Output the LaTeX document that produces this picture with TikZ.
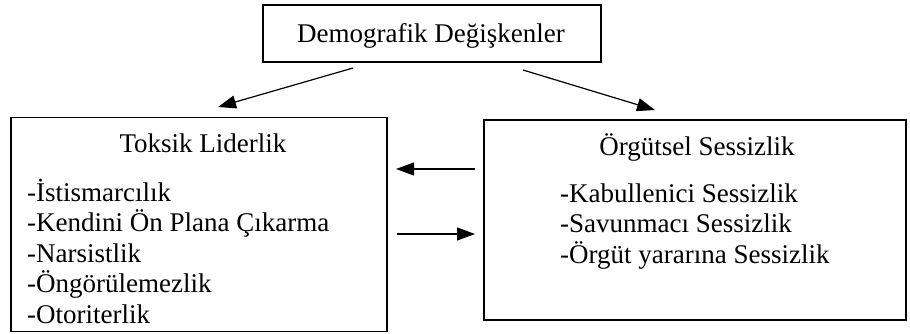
\documentclass[tikz,border=0pt]{standalone}
\usepackage{fontspec}
\setmainfont{Liberation Serif}
\usetikzlibrary{arrows.meta}
\begin{document}
\begin{tikzpicture}[x=1pt,y=-1pt,
  box/.style={draw,line width=1.2pt,rectangle,inner sep=0pt},
  txt/.style={anchor=base,inner sep=0pt,font=\fontsize{27}{31}\selectfont},
  lst/.style={anchor=base west,inner sep=0pt,font=\fontsize{27}{31}\selectfont},
  conn/.style={line width=1.2pt,-{Triangle[length=18pt,width=13pt]}}]
\useasboundingbox (0,0) rectangle (910,334);
\node[box,minimum width=338pt,minimum height=57pt] (demo) at (432,33.5) {};
\node[box,minimum width=376pt,minimum height=214pt] (tox) at (199,224.5) {};
\node[box,minimum width=422pt,minimum height=200pt] (org) at (695,220) {};
\node[txt] (demot) at (431,43) {Demografik Değişkenler};
\node[txt] (toxt) at (203,153) {Toksik Liderlik};
\node[lst] (t1) at (27,201) {-İstismarcılık};
\node[lst] (t2) at (27,231.5) {-Kendini Ön Plana Çıkarma};
\node[lst] (t3) at (27,262) {-Narsistlik};
\node[lst] (t4) at (27,292.5) {-Öngörülemezlik};
\node[lst] (t5) at (27,323) {-Otoriterlik};
\node[txt] (orgt) at (697,155) {Örgütsel Sessizlik};
\node[lst] (o1) at (560,202) {-Kabullenici Sessizlik};
\node[lst] (o2) at (560,232.5) {-Savunmacı Sessizlik};
\node[lst] (o3) at (560,263) {-Örgüt yararına Sessizlik};
\coordinate (dl) at (353,68);
\coordinate (dr) at (523,70);
\coordinate (tl) at (218,107);
\coordinate (tr) at (655,110);
\draw[conn] (dl) -- (tl);
\draw[conn] (dr) -- (tr);
\coordinate (a1s) at (475,169);
\coordinate (a1e) at (396,169);
\coordinate (a2s) at (397,234);
\coordinate (a2e) at (475,234);
\draw[conn] (a1s) -- (a1e);
\draw[conn] (a2s) -- (a2e);
\end{tikzpicture}
\end{document}
